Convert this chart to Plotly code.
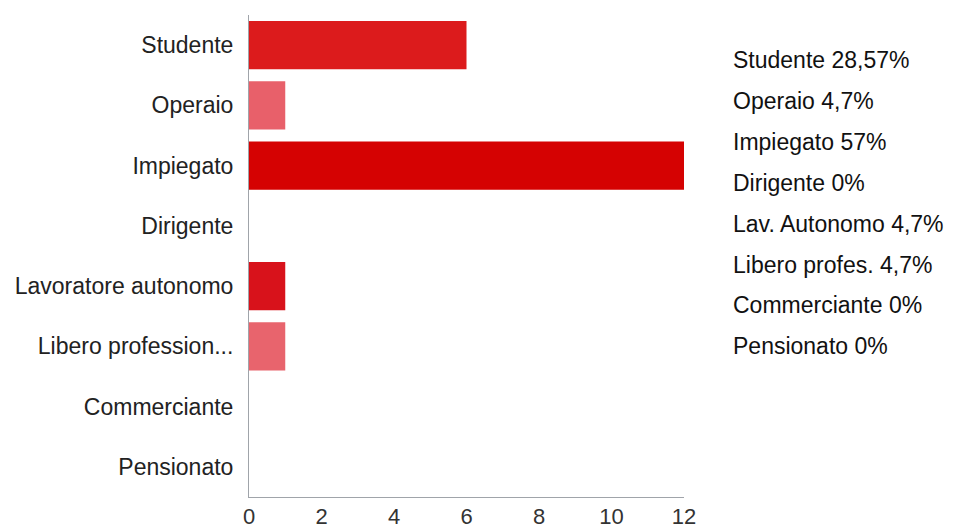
import plotly.graph_objects as go

categories = ["Studente", "Operaio", "Impiegato", "Dirigente",
              "Lavoratore autonomo", "Libero profession...", "Commerciante", "Pensionato"]
values = [6, 1, 12, 0, 1, 1, 0, 0]
bar_colors = ["#dc1b1c", "#e8606a", "#d50202", "#e8606a",
              "#d8121b", "#e8646d", "#d50202", "#e8606a"]
x_ticks = [0, 2, 4, 6, 8, 10, 12]
side_notes = ["Studente 28,57%", "Operaio 4,7%", "Impiegato 57%", "Dirigente 0%",
              "Lav. Autonomo 4,7%", "Libero profes. 4,7%", "Commerciante 0%", "Pensionato 0%"]

W, H = 955, 530
ML, MR, MT, MB = 249, 271, 15, 33
plot_w = W - ML - MR
plot_h = H - MT - MB

fig = go.Figure(go.Bar(
    y=categories, x=values, orientation="h",
    marker=dict(color=bar_colors, line=dict(width=0)),
    width=0.8,
))

font_family = "Liberation Sans, Arial, sans-serif"

fig.update_layout(
    width=W, height=H,
    margin=dict(l=ML, r=MR, t=MT, b=MB, pad=0, autoexpand=False),
    paper_bgcolor="white", plot_bgcolor="white",
    showlegend=False,
    font=dict(family=font_family, size=22, color="#222"),
)
fig.update_xaxes(
    range=[0, 12], tickvals=x_ticks, ticktext=[str(v) for v in x_ticks],
    showgrid=False, zeroline=False, showline=True, linecolor="#a0a4aa", linewidth=1,
    ticks="", tickfont=dict(size=22, color="#333"), ticklabelstandoff=0,
    automargin=False,
)
fig.update_yaxes(
    categoryorder="array", categoryarray=categories, autorange="reversed",
    showgrid=False, zeroline=False, showline=True, linecolor="#a0a4aa", linewidth=1,
    ticks="", tickfont=dict(size=23, color="#222"), ticklabelstandoff=10,
    automargin=False,
)

# side notes on the right, one per row
first_center_px = 60
spacing_px = 40.9
text_left_px = 731
for i, note in enumerate(side_notes):
    ypx = first_center_px + i * spacing_px
    fig.add_annotation(
        text=note, xref="paper", yref="paper",
        x=(text_left_px - ML) / plot_w, y=(H - MB - ypx) / plot_h,
        xanchor="left", yanchor="middle", showarrow=False,
        font=dict(family=font_family, size=23, color="#111"),
    )

fig.write_html("out.html")
